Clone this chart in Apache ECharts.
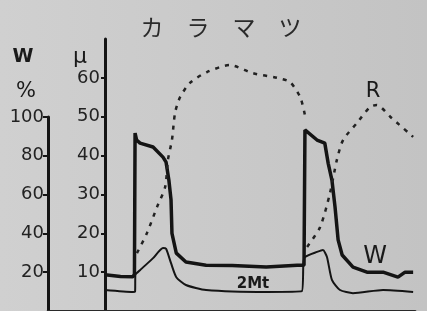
<!DOCTYPE html>
<html>
<head>
<meta charset="utf-8">
<script src="https://cdn.jsdelivr.net/npm/echarts@6/dist/echarts.min.js"></script>
<style>
  html, body { margin: 0; padding: 0; }
  #chart { width: 427px; height: 311px; }
</style>
</head>
<body>
<div id="chart"></div>
<script>
// time axis (arbitrary units, 0..100 across the plot)
const wTime = [0, 5, 9, 9.5, 9.7, 10.2, 11.3, 15.5, 18.7, 19.7, 20.6, 21.3, 21.6, 23, 26.1, 32.6, 41, 52, 62, 64.2,
  64.5, 68.4, 70.9, 72, 73.2, 74.2, 75.2, 76.5, 80, 84.5, 89.7, 94.5, 96.8, 99.4];
// W : water content, %
const wPct = [18.6, 17.8, 17.6, 19, 91.6, 88, 86.4, 84.4, 79.2, 76.6, 67.4, 57.2, 40, 29.8, 25.2, 23.6, 23.4, 22.6, 23.6, 23.6,
  93.2, 88, 86.4, 76, 67.4, 53.6, 36.6, 28.8, 22.6, 20, 20, 17.4, 20, 20];

// 2Mt, μ
const mtTime = [0, 9, 9.7, 9.8, 11.3, 15.5, 18.7, 19.7, 21.3, 23, 26.1, 32.6, 52, 63.5, 64, 64.5, 68.4, 70.3, 71.6, 73.2,
  75.8, 80, 89.7, 99.4];
const mtMu = [5.4, 4.9, 5, 9.3, 10.5, 13.6, 16.2, 16, 12.3, 8.7, 6.7, 5.4, 4.9, 5.1, 12.3, 13.9, 15.2, 15.7, 13.9, 8,
  5.4, 4.6, 5.4, 4.9];

// R, μ (two cycles, gap between them)
const rTime = [10.3, 13.5, 16.8, 19.4, 20.3, 21.6, 22.6, 24.2, 27.4, 32.9, 40.3, 47.7, 55.5, 59.7, 63, 64.5,
  64.8, 65.2, 69.4, 72.6, 74.8, 76.8, 81.3, 85.5, 87.7, 92, 99.4];
const rMu = [14.9, 20, 26.8, 31.9, 38.9, 44, 51, 55, 58.7, 61.5, 63.3, 61.2, 60, 58.9, 55, 50.4,
  null, 16.5, 21.6, 30.4, 38.9, 44, 48.4, 52.5, 53, 50, 44.8];

const wTicks = [20, 40, 60, 80, 100];
const muTicks = [10, 20, 30, 40, 50, 60];

const zip = (xs, ys) => xs.map((x, i) => [x, ys[i]]);

const ink = '#141414';
const numFont = 'DejaVu Sans';

const chart = echarts.init(document.getElementById('chart'));
chart.setOption({
  animation: false,
  backgroundColor: new echarts.graphic.LinearGradient(0, 0, 1, 0, [
    { offset: 0, color: '#d0d0d0' },
    { offset: 1, color: '#c3c3c3' }
  ]),
  grid: [
    { left: 105, right: 12, top: 39, bottom: 0 },
    { left: 48, width: 57, top: 117, bottom: 0 }
  ],
  xAxis: [
    {
      gridIndex: 0, type: 'value', min: 0, max: 100,
      axisLine: { lineStyle: { color: '#2a2a2a', width: 3 } },
      axisTick: { show: false }, axisLabel: { show: false }, splitLine: { show: false }
    },
    {
      gridIndex: 1, type: 'value', min: 0, max: 1,
      axisLine: { lineStyle: { color: '#2a2a2a', width: 3 } },
      axisTick: { show: false }, axisLabel: { show: false }, splitLine: { show: false }
    }
  ],
  yAxis: [
    {
      // W %
      gridIndex: 1, type: 'value', min: 0, max: 100, interval: 20,
      axisLine: { show: true, lineStyle: { color: ink, width: 3 } },
      axisTick: { show: true, length: 5, lineStyle: { color: ink, width: 2 }, customValues: wTicks },
      axisLabel: { customValues: wTicks, margin: 4, fontSize: 18, fontFamily: numFont, color: '#222' },
      splitLine: { show: false }
    },
    {
      // μ
      gridIndex: 0, type: 'value', min: 0, max: 70, interval: 10,
      axisLine: { show: true, lineStyle: { color: ink, width: 3 } },
      axisTick: { show: true, length: 4, lineStyle: { color: ink, width: 2 }, customValues: muTicks },
      axisLabel: { customValues: muTicks, margin: 5, fontSize: 18, fontFamily: numFont, color: '#222' },
      splitLine: { show: false }
    },
    {
      // hidden W % scale on the main plot (20% = 10μ)
      gridIndex: 0, type: 'value', min: 0, max: 140, show: false
    }
  ],
  series: [
    {
      name: 'W', type: 'line', xAxisIndex: 0, yAxisIndex: 2,
      data: zip(wTime, wPct), symbol: 'none',
      lineStyle: { color: ink, width: 3.5 }
    },
    {
      name: '2Mt', type: 'line', xAxisIndex: 0, yAxisIndex: 1,
      data: zip(mtTime, mtMu), symbol: 'none', smooth: 0.2,
      lineStyle: { color: ink, width: 2 }
    },
    {
      name: 'R', type: 'line', xAxisIndex: 0, yAxisIndex: 1,
      data: zip(rTime, rMu), symbol: 'none', smooth: 0.25,
      lineStyle: { color: '#222', width: 2.5, type: [4, 6] }
    }
  ],
  graphic: [
    { type: 'text', x: 221, y: 27, style: { text: 'カ　ラ　マ　ツ', fontSize: 23, fontFamily: 'Noto Sans CJK JP', fill: '#2a2a2a', align: 'center', verticalAlign: 'middle' } },
    { type: 'text', x: 23, y: 57, style: { text: 'W', fontSize: 19, fontWeight: 'bold', fontFamily: 'DejaVu Sans', fill: '#1a1a1a', align: 'center', verticalAlign: 'middle' } },
    { type: 'text', x: 26, y: 92, style: { text: '%', fontSize: 21, fontFamily: 'DejaVu Sans', fill: '#1a1a1a', align: 'center', verticalAlign: 'middle' } },
    { type: 'text', x: 80, y: 57, style: { text: 'μ', fontSize: 22, fontFamily: 'DejaVu Sans', fill: '#1a1a1a', align: 'center', verticalAlign: 'middle' } },
    { type: 'text', x: 373, y: 92, style: { text: 'R', fontSize: 21, fontFamily: 'DejaVu Sans', fill: '#1a1a1a', align: 'center', verticalAlign: 'middle' } },
    { type: 'text', x: 375, y: 257, style: { text: 'W', fontSize: 24, fontFamily: 'DejaVu Sans', fill: '#1a1a1a', align: 'center', verticalAlign: 'middle' } },
    { type: 'text', x: 253, y: 284, style: { text: '2Mt', fontSize: 15, fontWeight: 'bold', fontFamily: 'DejaVu Sans', fill: '#1a1a1a', align: 'center', verticalAlign: 'middle' } }
  ]
});
</script>
</body>
</html>
